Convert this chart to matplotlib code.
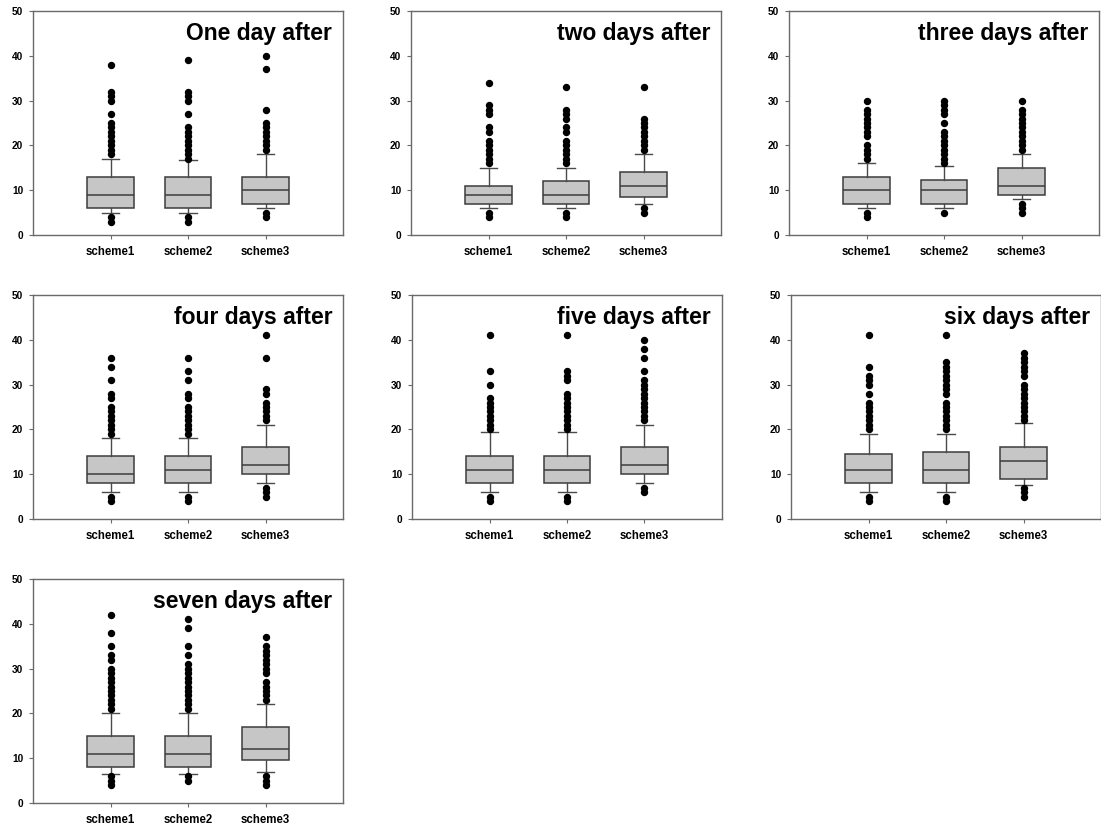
import matplotlib
matplotlib.use("Agg")
import matplotlib.pyplot as plt

plt.rcParams['font.family'] = ['Liberation Sans', 'DejaVu Sans']

titles = ["One day after", "two days after", "three days after", "four days after",
          "five days after", "six days after", "seven days after"]
schemes = ["scheme1", "scheme2", "scheme3"]
yticks = [0, 10, 20, 30, 40, 50]

# box statistics per panel (scheme1, scheme2, scheme3)
q1 = [[6, 6, 7], [7, 7, 8.5], [7, 7, 9], [8, 8, 10], [8, 8, 10], [8, 8, 9], [8, 8, 9.5]]
med = [[9, 9, 10], [9, 9, 11], [10, 10, 11], [10, 11, 12], [11, 11, 12], [11, 11, 13], [11, 11, 12]]
q3 = [[13, 13, 13], [11, 12, 14], [13, 12.3, 15], [14, 14, 16], [14, 14, 16], [14.5, 15, 16], [15, 15, 17]]
whislo = [[5, 5, 6], [6, 6, 7], [6, 6, 8], [6, 6, 8], [6, 6, 8], [6, 6, 7.5], [6.5, 6.5, 7]]
whishi = [[17, 16.7, 18], [15, 15, 18], [16, 15.5, 18], [18, 18, 21], [19.5, 19.5, 21], [19, 19, 21.5], [20, 20, 22]]

fliers_day1 = [[3, 4, 18, 19, 20, 21, 22, 23, 24, 25, 27, 30, 31, 32, 38],
               [3, 4, 17, 18, 19, 20, 21, 22, 23, 24, 27, 30, 31, 32, 39],
               [4, 5, 19, 20, 21, 22, 23, 24, 25, 28, 37, 40]]
fliers_day2 = [[4, 5, 16, 17, 18, 19, 20, 21, 23, 24, 27, 28, 29, 34],
               [4, 5, 16, 17, 18, 19, 20, 21, 23, 24, 26, 27, 28, 33],
               [5, 6, 19, 20, 21, 22, 23, 24, 25, 26, 33]]
fliers_day3 = [[4, 5, 17, 18, 19, 20, 22, 23, 24, 25, 26, 27, 28, 30],
               [5, 16, 17, 18, 19, 20, 21, 22, 23, 25, 27, 28, 29, 30],
               [5, 6, 7, 19, 20, 21, 22, 23, 24, 25, 26, 27, 28, 30]]
fliers_day4 = [[4, 5, 19, 20, 21, 22, 23, 24, 25, 27, 28, 31, 34, 36],
               [4, 5, 19, 20, 21, 22, 23, 24, 25, 27, 28, 31, 33, 36],
               [5, 6, 7, 22, 23, 24, 25, 26, 28, 29, 36, 41]]
fliers_day5 = [[4, 5, 20, 21, 22, 23, 24, 25, 26, 27, 30, 33, 41],
               [4, 5, 20, 21, 22, 23, 24, 25, 26, 27, 28, 31, 32, 33, 41],
               [6, 7, 22, 23, 24, 25, 26, 27, 28, 29, 30, 31, 33, 36, 38, 40]]
fliers_day6 = [[4, 5, 20, 21, 22, 23, 24, 25, 26, 28, 30, 31, 32, 34, 41],
               [4, 5, 20, 21, 22, 23, 24, 25, 26, 28, 29, 30, 31, 32, 33, 34, 35, 41],
               [5, 6, 7, 22, 23, 24, 25, 26, 27, 28, 29, 30, 32, 33, 34, 35, 36, 37]]
fliers_day7 = [[4, 5, 6, 21, 22, 23, 24, 25, 26, 27, 28, 29, 30, 32, 33, 35, 38, 42],
               [5, 6, 21, 22, 23, 24, 25, 26, 27, 28, 29, 30, 31, 33, 35, 39, 41],
               [4, 5, 6, 23, 24, 25, 26, 27, 29, 30, 31, 32, 33, 34, 35, 37]]
fliers = [fliers_day1, fliers_day2, fliers_day3, fliers_day4, fliers_day5, fliers_day6, fliers_day7]

# layout (figure pixels)
W, H = 1101, 831
lefts_px = [33, 411, 789, 33, 412, 791, 33]
bottoms_px = [235, 235, 235, 519, 519, 519, 803]
width_px = 310
height_px = 224

fig = plt.figure(figsize=(W / 100, H / 100), dpi=100)

frame_col = "#6a6a6a"
for i in range(7):
    ax = fig.add_axes([lefts_px[i] / W, 1 - bottoms_px[i] / H, width_px / W, height_px / H])
    stats = []
    for j in range(3):
        stats.append(dict(q1=q1[i][j], med=med[i][j], q3=q3[i][j],
                          whislo=whislo[i][j], whishi=whishi[i][j],
                          fliers=fliers[i][j], label=schemes[j]))
    ax.bxp(stats, positions=[1, 2, 3], widths=0.6, patch_artist=True,
           boxprops=dict(facecolor="#c6c6c6", edgecolor="#3c3c3c", linewidth=1.1),
           medianprops=dict(color="#3c3c3c", linewidth=1.1),
           whiskerprops=dict(color="#4a4a4a", linewidth=1.0),
           capprops=dict(color="#4a4a4a", linewidth=1.0),
           capwidths=0.22,
           flierprops=dict(marker="o", markerfacecolor="black", markeredgecolor="black",
                           markersize=4.3, linestyle="none"))
    ax.set_xlim(0, 4)
    ax.set_ylim(0, 50)
    ax.set_yticks(yticks)
    ax.set_yticklabels([str(v) for v in yticks], fontsize=7.3, fontweight="bold")
    ax.set_xticks([1, 2, 3])
    ax.set_xticklabels(schemes, fontsize=8.3, fontweight="bold")
    ax.tick_params(axis="both", length=3, width=0.8, color=frame_col, pad=4)
    ax.tick_params(axis="x", pad=5)
    for sp in ax.spines.values():
        sp.set_color(frame_col)
        sp.set_linewidth(1.0)
    ax.text(0.965, 0.87, titles[i], transform=ax.transAxes, ha="right", va="baseline",
            fontsize=16.5, fontweight="bold", color="black")

fig.savefig("out.png", dpi=100)
